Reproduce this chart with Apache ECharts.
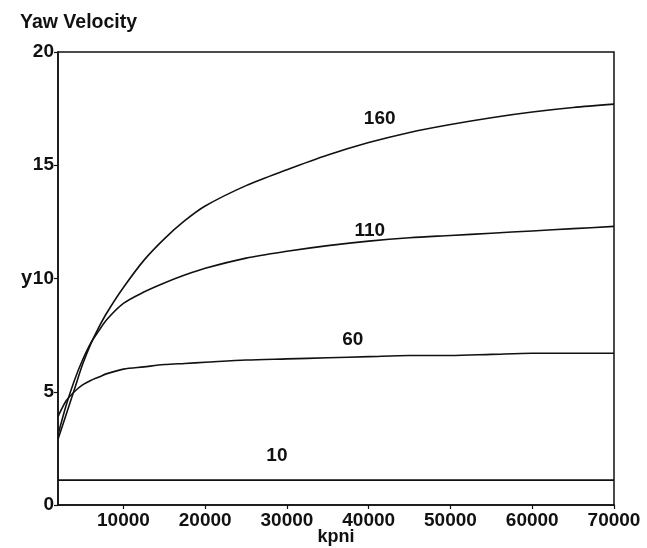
<!DOCTYPE html>
<html>
<head>
<meta charset="utf-8">
<script src="https://cdn.jsdelivr.net/npm/echarts@6/dist/echarts.min.js"></script>
<style>
  html, body { margin: 0; padding: 0; background: #fff; }
  #chart { width: 647px; height: 548px; }
</style>
</head>
<body>
<div id="chart"></div>
<script>
// Yaw velocity against kpni, one curve per speed setting
const kpni = [2000, 3000, 4000, 5000, 6000, 7000, 8000, 10000, 12500, 15000, 17500, 20000,
              25000, 30000, 35000, 40000, 45000, 50000, 55000, 60000, 65000, 70000];

const yaw160 = [2.9, 4.0, 5.1, 6.2, 7.1, 7.85, 8.5, 9.6, 10.8, 11.75, 12.55, 13.2,
                14.1, 14.8, 15.45, 16.0, 16.45, 16.8, 17.1, 17.35, 17.55, 17.7];
const yaw110 = [3.1, 4.4, 5.5, 6.4, 7.15, 7.7, 8.2, 8.9, 9.4, 9.8, 10.15, 10.45,
                10.9, 11.2, 11.45, 11.65, 11.8, 11.9, 12.0, 12.1, 12.2, 12.3];
const yaw60 = [3.9, 4.6, 5.0, 5.3, 5.5, 5.65, 5.8, 6.0, 6.1, 6.2, 6.25, 6.3,
               6.4, 6.45, 6.5, 6.55, 6.6, 6.6, 6.65, 6.7, 6.7, 6.7];
const yaw10 = [1.1, 1.1, 1.1, 1.1, 1.1, 1.1, 1.1, 1.1, 1.1, 1.1, 1.1, 1.1,
               1.1, 1.1, 1.1, 1.1, 1.1, 1.1, 1.1, 1.1, 1.1, 1.1];

const xTicks = [10000, 20000, 30000, 40000, 50000, 60000, 70000];
const yTicks = [0, 5, 10, 15, 20];

const curves = [
  { name: '160', values: yaw160, labelAt: 15, offset: [11, -24] },
  { name: '110', values: yaw110, labelAt: 15, offset: [1, -10] },
  { name: '60',  values: yaw60,  labelAt: 15, offset: [-16, -17] },
  { name: '10',  values: yaw10,  labelAt: 13, offset: [-10, -24] }
];

const FONT = '"Liberation Sans", Arial, sans-serif';
const ink = '#111';

const chart = echarts.init(document.getElementById('chart'), null, { renderer: 'canvas' });

chart.setOption({
  backgroundColor: '#fff',
  animation: false,
  title: {
    text: 'Yaw Velocity',
    left: 15,
    top: 8,
    textStyle: { fontFamily: FONT, fontSize: 19.5, fontWeight: 'bold', color: ink }
  },
  grid: {
    left: 58, right: 33, top: 52, bottom: 43,
    outerBoundsMode: 'none',
    containLabel: false,
    show: true, borderColor: ink, borderWidth: 1.5, backgroundColor: 'transparent'
  },
  xAxis: {
    type: 'value',
    min: 2000,
    max: 70000,
    name: 'kpni',
    nameLocation: 'middle',
    nameGap: 23,
    nameMoveOverlap: false,
    nameTextStyle: { fontFamily: FONT, fontSize: 18, fontWeight: 'bold', color: ink },
    axisLine: { lineStyle: { color: ink, width: 1.5 } },
    axisTick: { show: true, length: 4, customValues: xTicks, lineStyle: { color: ink, width: 1.2 } },
    axisLabel: {
      customValues: xTicks, margin: 6,
      formatter: v => String(v),
      fontFamily: FONT, fontSize: 19, fontWeight: 'bold', color: ink
    },
    splitLine: { show: false }
  },
  yAxis: {
    type: 'value',
    min: 0,
    max: 20,
    interval: 5,
    name: 'y',
    nameLocation: 'middle',
    nameRotate: 0,
    nameGap: 26,
    nameMoveOverlap: false,
    nameTextStyle: { fontFamily: FONT, fontSize: 20, fontWeight: 'bold', color: ink, align: 'right' },
    axisLine: { show: true, lineStyle: { color: ink, width: 1.5 } },
    axisTick: { show: true, length: 4, customValues: yTicks, lineStyle: { color: ink, width: 1.2 } },
    axisLabel: {
      customValues: yTicks, margin: 4,
      fontFamily: FONT, fontSize: 19, fontWeight: 'bold', color: ink
    },
    splitLine: { show: false }
  },
  series: curves.map(c => ({
    name: c.name,
    type: 'line',
    data: kpni.map((x, i) => [x, c.values[i]]),
    smooth: 0.3,
    showSymbol: false,
    lineStyle: { color: ink, width: 1.6 },
    markPoint: {
      symbol: 'circle',
      symbolSize: 0,
      silent: true,
      data: [{ coord: [kpni[c.labelAt], c.values[c.labelAt]], value: c.name }],
      label: {
        show: true,
        position: 'inside',
        offset: c.offset,
        formatter: c.name,
        fontFamily: FONT, fontSize: 19, fontWeight: 'bold', color: ink
      }
    }
  }))
});
</script>
</body>
</html>
